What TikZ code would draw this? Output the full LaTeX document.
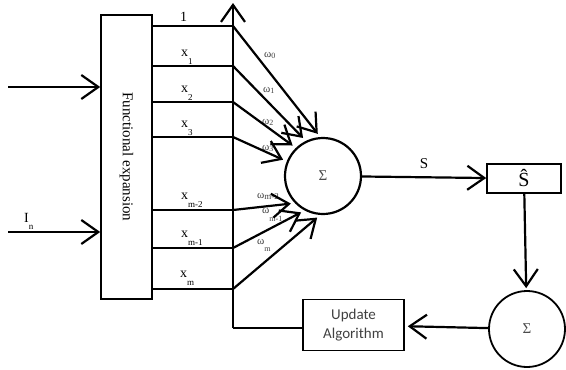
\documentclass[tikz,border=0pt]{standalone}
\usepackage{fontspec}
\setmainfont{Liberation Serif}
\newfontfamily\calibri{Carlito}
\usetikzlibrary{arrows.meta}
\newcommand{\sublab}[3]{#1\raisebox{#3}{\fontsize{9}{10}\selectfont #2}}

\begin{document}
\begin{tikzpicture}[x=1pt, y=-1pt,
  barb/.style={-{Straight Barb[length=17pt,width=24pt,line width=2.2pt]}, line width=2.2pt},
  wire/.style={line width=1.4pt},
  box/.style={draw, line width=1.6pt, inner sep=0pt},
  xlab/.style={anchor=south west, inner sep=0pt, font=\fontsize{14}{15}\selectfont},
  wlab/.style={anchor=south west, inner sep=0pt, text=black!75, font=\fontsize{11}{12}\selectfont}]
  \useasboundingbox (0,0) rectangle (566,370);
  \node[box, minimum width=51pt, minimum height=284pt] (fe) at (126.5,157) {};
  \node[rotate=-90, font=\fontsize{15}{16}\selectfont] (fetext) at (fe.center) {Functional expansion};
  \node[circle, draw, line width=2.2pt, minimum size=76pt, text=black!70, font=\fontsize{15}{16}\selectfont] (sum) at (323,176) {Σ};
  \node[box, minimum width=74pt, minimum height=29pt, font=\fontsize{20}{20}\selectfont] (shat) at (524,178.5) {Ŝ};
  \node[circle, draw, line width=1.8pt, minimum size=76pt, text=black!70, font=\fontsize{15}{16}\selectfont] (sum2) at (527,329) {Σ};
  \node[box, minimum width=101pt, minimum height=51pt, align=center, text=black!75,
        font=\calibri\fontsize{15}{19}\selectfont] (upd) at (353.5,325) {Update\\Algorithm};
  \coordinate (in1) at (8,87);
  \coordinate (in2) at (8,232);
  \coordinate (top) at (233,3);
  \coordinate (b0) at (233,26);
  \coordinate (b1) at (233,66);
  \coordinate (b2) at (233,102);
  \coordinate (b3) at (233,137);
  \coordinate (b4) at (233,210);
  \coordinate (b5) at (233,248);
  \coordinate (b6) at (233,289);
  \coordinate (bb) at (233,328);
  \node[xlab] (l0) at (180,22) {1};
  \node[xlab] (l1) at (181,65) {\sublab{x}{1}{-8pt}};
  \node[xlab] (l2) at (181,101) {\sublab{x}{2}{-8pt}};
  \node[xlab] (l3) at (181,136) {\sublab{x}{3}{-8pt}};
  \node[xlab] (l4) at (181,208) {\sublab{x}{m-2}{-8pt}};
  \node[xlab] (l5) at (181,246) {\sublab{x}{m-1}{-8pt}};
  \node[xlab] (l6) at (180,286) {\sublab{x}{m}{-8pt}};
  \node[anchor=south west, inner sep=0pt, font=\fontsize{14}{15}\selectfont] (lin) at (24,230) {\sublab{I}{n}{-7pt}};
  \node[wlab] (w0) at (264,59) {ω\raisebox{-1.5pt}{\fontsize{8}{9}\selectfont 0}};
  \node[wlab] (w1) at (263,94) {ω\raisebox{-1.5pt}{\fontsize{8}{9}\selectfont 1}};
  \node[wlab] (w2) at (262,126) {ω\raisebox{-1.5pt}{\fontsize{8}{9}\selectfont 2}};
  \node[wlab] (w3) at (262,152) {ω\raisebox{-1.5pt}{\fontsize{8}{9}\selectfont 3}};
  \node[wlab] (w4) at (257,200) {ω\raisebox{-1.5pt}{\fontsize{9}{10}\selectfont m-2}};
  \node[wlab] (w5) at (262,222) {ω\raisebox{-8pt}{\fontsize{8}{9}\selectfont m-1}};
  \node[wlab] (w6) at (257,252) {ω\raisebox{-7pt}{\fontsize{8}{9}\selectfont m}};
  \draw[barb] (in1) -- (fe.west |- in1);
  \draw[barb] (in2) -- (fe.west |- in2);
  \foreach \b in {b0,b1,b2,b3,b4,b5,b6}
    \draw[wire] (fe.east |- \b) -- (\b);
  \draw[line width=2.6pt] (bb) -- (b0);
  \draw[barb] (b0) -- (top);
  \draw[wire] (bb) -- (upd.west |- bb);
  \draw[barb, shorten >=4pt] (b0) -- (sum.94);
  \draw[barb, shorten >=4pt] (b1) -- (sum.116);
  \draw[barb, shorten >=4pt] (b2) -- (sum.134);
  \draw[barb, shorten >=4pt] (b3) -- (sum.158);
  \draw[barb, shorten >=4pt] (b4) -- (sum.224);
  \draw[barb, shorten >=4pt] (b5) -- (sum.242);
  \draw[barb, shorten >=4pt] (b6) -- (sum.266);
  \draw[barb] (sum) -- node[above=4pt, font=\fontsize{15}{16}\selectfont] (slab) {S} (shat);
  \draw[barb, shorten >=2pt] (shat) -- (sum2);
  \draw[barb, shorten >=3pt] (sum2) -- (upd);
\end{tikzpicture}
\end{document}
